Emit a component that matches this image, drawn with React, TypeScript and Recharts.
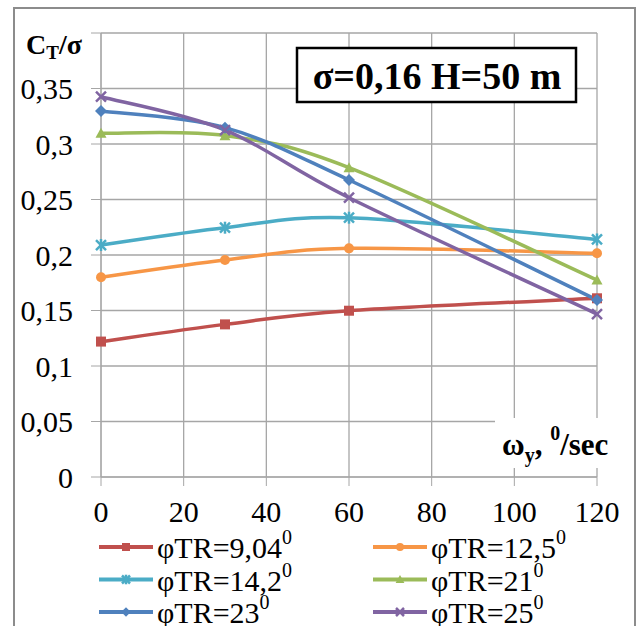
import { LineChart, Line, XAxis, YAxis, CartesianGrid } from 'recharts'

// rotation speed, deg/sec
const omegaY = [0, 30, 60, 120]

// CT/sigma for each blade pitch
const phi904 = [0.122, 0.1375, 0.1498, 0.161]
const phi125 = [0.18, 0.1955, 0.206, 0.2015]
const phi142 = [0.209, 0.2246, 0.2336, 0.214]
const phi21 = [0.3096, 0.3075, 0.2787, 0.1775]
const phi23 = [0.3297, 0.3147, 0.2676, 0.1595]
const phi25 = [0.3426, 0.3126, 0.2516, 0.1468]

const xTicks = [0, 20, 40, 60, 80, 100, 120]
const yTicks = [0, 0.05, 0.1, 0.15, 0.2, 0.25, 0.3, 0.35, 0.4]

const SERIES = [
    { key: 's904', label: 'φTR=9,04', values: phi904, color: '#c0504d', marker: 'square' },
    { key: 's125', label: 'φTR=12,5', values: phi125, color: '#f79646', marker: 'circle' },
    { key: 's142', label: 'φTR=14,2', values: phi142, color: '#4bacc6', marker: 'star' },
    { key: 's21', label: 'φTR=21', values: phi21, color: '#9bbb59', marker: 'triangle' },
    { key: 's23', label: 'φTR=23', values: phi23, color: '#4f81bd', marker: 'diamond' },
    { key: 's25', label: 'φTR=25', values: phi25, color: '#8064a2', marker: 'cross' },
]

const data = omegaY.map((x, i) => {
    const row: any = { x }
    SERIES.forEach(s => { row[s.key] = s.values[i] })
    return row
})

const FONT = 'Liberation Serif, DejaVu Serif, serif'

// excel-like smoothed line (catmull-rom as bezier)
const smoothCurve = (context: any) => {
    let pts: number[][] = []
    return {
        areaStart() {},
        areaEnd() {},
        lineStart() { pts = [] },
        point(x: number, y: number) { pts.push([+x, +y]) },
        lineEnd() {
            if (!pts.length) return
            context.moveTo(pts[0][0], pts[0][1])
            for (let i = 0; i < pts.length - 1; i++) {
                const p0 = pts[Math.max(i - 1, 0)]
                const p1 = pts[i]
                const p2 = pts[i + 1]
                const p3 = pts[Math.min(i + 2, pts.length - 1)]
                context.bezierCurveTo(
                    p1[0] + (p2[0] - p0[0]) / 6, p1[1] + (p2[1] - p0[1]) / 6,
                    p2[0] - (p3[0] - p1[0]) / 6, p2[1] - (p3[1] - p1[1]) / 6,
                    p2[0], p2[1]
                )
            }
        },
    }
}

function Marker({ cx, cy, shape, color, r }: { cx: number, cy: number, shape: string, color: string, r: number }) {
    if (cx == null || cy == null) return null
    switch (shape) {
        case 'square':
            return <rect x={cx - r} y={cy - r} width={2 * r} height={2 * r} fill={color} />
        case 'circle':
            return <circle cx={cx} cy={cy} r={r} fill={color} />
        case 'triangle':
            return <polygon points={`${cx},${cy - r * 1.1} ${cx + r * 1.1},${cy + r * 0.9} ${cx - r * 1.1},${cy + r * 0.9}`} fill={color} />
        case 'diamond':
            return <polygon points={`${cx},${cy - r * 1.2} ${cx + r * 1.2},${cy} ${cx},${cy + r * 1.2} ${cx - r * 1.2},${cy}`} fill={color} />
        case 'cross':
            return (
                <g stroke={color} strokeWidth={2.5}>
                    <line x1={cx - r} y1={cy - r} x2={cx + r} y2={cy + r} />
                    <line x1={cx - r} y1={cy + r} x2={cx + r} y2={cy - r} />
                </g>
            )
        default: // star
            return (
                <g stroke={color} strokeWidth={2.5}>
                    <line x1={cx - r} y1={cy - r} x2={cx + r} y2={cy + r} />
                    <line x1={cx - r} y1={cy + r} x2={cx + r} y2={cy - r} />
                    <line x1={cx} y1={cy - r * 1.2} x2={cx} y2={cy + r * 1.2} />
                </g>
            )
    }
}

const fmt = (v: number) => String(Number(v.toFixed(2))).replace('.', ',')

export default function App() {
    return (
        <div style={{ position: 'absolute', left: 0, top: 0, width: 637, height: 626, background: '#fff', fontFamily: FONT }}>
            <LineChart width={637} height={626} data={data} margin={{ top: 33, right: 40, left: 0, bottom: 0 }}>
                <CartesianGrid stroke="#a6a6a6" strokeWidth={1.3} />
                <XAxis
                    dataKey="x"
                    type="number"
                    domain={[0, 120]}
                    ticks={xTicks}
                    height={149}
                    tickSize={9}
                    tickMargin={15}
                    stroke="#a6a6a6"
                    tick={{ fill: '#000', fontSize: 30, style: { fontFamily: FONT } }}
                />
                <YAxis
                    type="number"
                    domain={[0, 0.4]}
                    ticks={yTicks}
                    width={101}
                    tickSize={10}
                    tickMargin={18}
                    stroke="#a6a6a6"
                    tickFormatter={(v: number) => (v >= 0.4 ? '' : fmt(v))}
                    tick={{ fill: '#000', fontSize: 30, style: { fontFamily: FONT } }}
                />
                {SERIES.map(s => (
                    <Line
                        key={s.key}
                        dataKey={s.key}
                        type={smoothCurve as any}
                        stroke={s.color}
                        strokeWidth={3.5}
                        isAnimationActive={false}
                        activeDot={false}
                        dot={(p: any) => (
                            <Marker key={`${s.key}-${p.index}`} cx={p.cx} cy={p.cy} shape={s.marker} color={s.color} r={5} />
                        )}
                    />
                ))}
            </LineChart>

            <svg width={637} height={626} style={{ position: 'absolute', left: 0, top: 0, pointerEvents: 'none', fontFamily: FONT }}>
                {/* outer frame, bottom edge is cropped off */}
                <path d="M14,626 L14,8 L635,8 L635,626" fill="none" stroke="#8c8c8c" strokeWidth={2} />

                {/* y title */}
                <text fontWeight="bold" fontSize={28} fill="#000">
                    <tspan x={26} y={54}>C</tspan>
                    <tspan fontSize={19} dy={5}>T</tspan>
                    <tspan dy={-5}>/σ</tspan>
                </text>

                {/* x title on white patch */}
                <rect x={495} y={418} width={125} height={50} fill="#fff" />
                <text fontWeight="bold" fontSize={31} fill="#000">
                    <tspan x={502} y={455}>ω</tspan>
                    <tspan fontSize={20} dy={7}>y</tspan>
                    <tspan dy={-7}>, </tspan>
                    <tspan fontSize={20} dy={-15}>0</tspan>
                    <tspan dy={15}>/sec</tspan>
                </text>

                {/* annotation */}
                <rect x={297} y={48} width={279} height={54} fill="#fff" stroke="#000" strokeWidth={2.5} />
                <text x={437} y={89} textAnchor="middle" fontWeight="bold" fontSize={38} fill="#000">
                    σ=0,16 H=50 m
                </text>

                {/* legend */}
                {SERIES.map((s, i) => {
                    const col = i % 2
                    const row = Math.floor(i / 2)
                    const x0 = col === 0 ? 99 : 373
                    const cy = 547 + row * 32.5
                    return (
                        <g key={s.key}>
                            <line x1={x0} y1={cy} x2={x0 + 54} y2={cy} stroke={s.color} strokeWidth={4} />
                            <Marker cx={x0 + 27} cy={cy} shape={s.marker} color={s.color} r={4} />
                            <text fontSize={30} fill="#000">
                                <tspan x={x0 + 58} y={cy + 11}>{s.label}</tspan>
                                <tspan fontSize={20} dy={-14}>0</tspan>
                            </text>
                        </g>
                    )
                })}
            </svg>
        </div>
    )
}
